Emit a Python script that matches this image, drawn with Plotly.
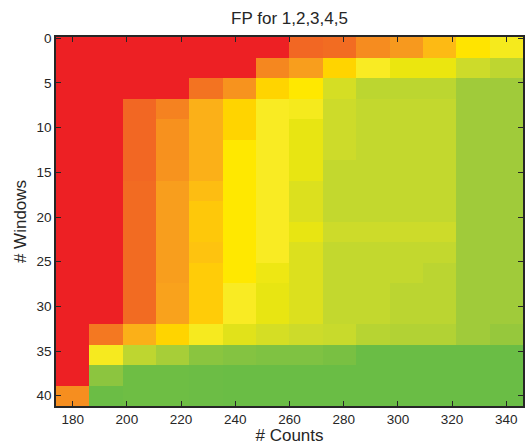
import plotly.graph_objects as go

# Grid axes: count threshold (columns) and window count (rows)
counts = [180.0, 192.31, 204.62, 216.92, 229.23, 241.54, 253.85,
          266.15, 278.46, 290.77, 303.08, 315.38, 327.69, 340.0]
windows = [1.0, 3.29, 5.59, 7.88, 10.18, 12.47, 14.76, 17.06, 19.35,
           21.65, 23.94, 26.24, 28.53, 30.82, 33.12, 35.41, 37.71, 40.0]

# False-positive score per (window, count) cell; 20 = saturated
R = 20
fp = [
    [R, R, R, R, R, R, R, 17, 16.6, 15, 14.3, 12.5, 10.2, 8.7],
    [R, R, R, R, R, R, 15.2, 14, 11, 9, 8, 8, 6, 4.7],
    [R, R, R, R, 16, 14.6, 11, 10, 6.5, 4.6, 4.6, 4.6, 3, 3],
    [R, R, 17, 15.4, 13, 11, 9, 8.7, 6, 5, 5, 5, 3, 3],
    [R, R, 17, 14.7, 13, 11, 9, 7.8, 6, 5, 5, 5, 3, 3],
    [R, R, 17, 14.7, 13, 10, 9, 7.8, 6, 5, 5, 5, 3, 3],
    [R, R, 17, 14.6, 13, 10, 9, 7.8, 5, 5, 5, 5, 3, 3],
    [R, R, 16.7, 14, 12.3, 10, 9, 7, 5, 5, 5, 5, 3, 3],
    [R, R, 16.7, 14, 11.7, 10, 9, 7, 5, 5, 5, 5, 3, 3],
    [R, R, 16.7, 14, 11.7, 10, 9, 7.8, 6, 6, 6, 6, 3, 3],
    [R, R, 16.7, 14, 12, 10, 9, 7, 5, 5, 5, 5, 3, 3],
    [R, R, 16.7, 14, 11.5, 10, 8.2, 7, 5, 5, 5, 4.5, 3, 3],
    [R, R, 16.7, 13.8, 11.5, 9, 7.8, 7, 5, 5, 4.5, 4.5, 3, 3],
    [R, R, 16.7, 13.8, 11.5, 9, 7.8, 7, 5, 5, 4.5, 4.5, 3, 3],
    [R, 15.8, 13, 11, 8.8, 7.3, 6.5, 6, 5.5, 4.3, 4, 4, 3, 2.6],
    [R, 8.8, 4.7, 3.4, 2.1, 1.8, 1.5, 1.5, 1.2, 0, 0, 0, 0, 0],
    [R, 2.2, 0.3, 0.3, 0.2, 0, 0, 0, 0, 0, 0, 0, 0, 0],
    [14.9, 0.1, 0.3, 0.3, 0.2, 0, 0, 0, 0, 0, 0, 0, 0, 0],
]

# Green -> yellow -> orange -> red palette, one stop per score level
palette = [
    (0, "rgb(106,189,69)"), (1, "rgb(118,191,67)"), (2, "rgb(135,196,64)"),
    (3, "rgb(160,203,58)"), (4, "rgb(178,210,52)"), (5, "rgb(195,216,46)"),
    (6, "rgb(205,219,42)"), (7, "rgb(220,224,30)"), (8, "rgb(235,230,15)"),
    (9, "rgb(249,235,35)"), (10, "rgb(255,232,0)"), (11, "rgb(255,212,0)"),
    (12, "rgb(254,195,15)"), (13, "rgb(251,176,24)"), (14, "rgb(248,158,29)"),
    (15, "rgb(246,140,31)"), (16, "rgb(243,115,33)"), (17, "rgb(242,103,35)"),
    (20, "rgb(237,32,36)"),
]
colorscale = [[v / R, c] for v, c in palette]

FONT = "Liberation Sans, Arial, Helvetica, sans-serif"
INK = "#262626"

fig = go.Figure(
    go.Heatmap(
        x=counts,
        y=windows,
        z=fp,
        colorscale=colorscale,
        zmin=0,
        zmax=R,
        showscale=False,
        hoverinfo="skip",
    )
)

axis_common = dict(
    showline=True,
    linecolor=INK,
    linewidth=1.5,
    mirror="ticks",
    ticks="inside",
    ticklen=5,
    tickwidth=1,
    tickcolor=INK,
    showgrid=False,
    zeroline=False,
    tickfont=dict(family=FONT, size=13.5, color=INK),
)

fig.update_layout(
    width=526,
    height=445,
    margin=dict(l=56, r=1, t=37, b=39),
    paper_bgcolor="white",
    plot_bgcolor="white",
    font=dict(family=FONT, color=INK),
    title=dict(
        text="FP for 1,2,3,4,5",
        x=0.5,
        xref="paper",
        xanchor="center",
        y=1 - 18 / 445,
        yref="container",
        yanchor="middle",
        font=dict(family=FONT, size=17, color=INK),
    ),
    xaxis=dict(
        range=[173.85, 346.15],
        tickvals=[180, 200, 220, 240, 260, 280, 300, 320, 340],
        title=dict(text="# Counts", font=dict(family=FONT, size=17, color=INK), standoff=2),
        **axis_common,
    ),
    yaxis=dict(
        range=[41.147, -0.147],
        tickvals=[0, 5, 10, 15, 20, 25, 30, 35, 40],
        title=dict(text="# Windows", font=dict(family=FONT, size=17, color=INK), standoff=6),
        **axis_common,
    ),
)

fig.write_html("out.html")
